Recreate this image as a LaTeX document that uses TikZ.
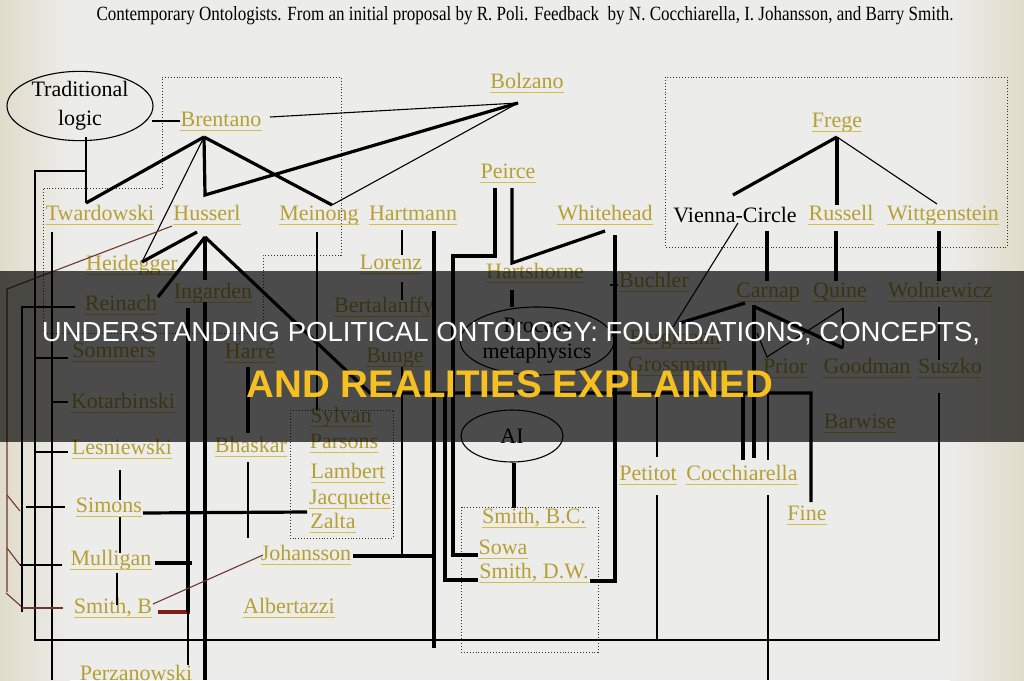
\documentclass[tikz,border=0pt]{standalone}
\usepackage{graphicx}
\usepackage{fontspec}
\setmainfont{Liberation Serif}
\newfontfamily\headfont{Liberation Sans}
\usetikzlibrary{shapes.geometric}
\definecolor{bgc}{RGB}{236,236,234}
\definecolor{edgec}{RGB}{224,220,202}
\definecolor{namec}{RGB}{182,160,52}
\definecolor{ulc}{RGB}{214,190,70}
\definecolor{brownc}{RGB}{110,55,45}
\definecolor{redbr}{RGB}{125,30,25}
\definecolor{headyel}{RGB}{246,192,32}
\tikzset{
  nm/.style={font=\fontsize{22}{22}\selectfont, text=namec, inner sep=0pt, text height=15pt, text depth=4pt},
  ul/.style={draw=ulc, line width=1.3pt},
  thk/.style={line width=3.2pt},
  thn/.style={line width=1.1pt},
  brn/.style={line width=1.1pt, draw=brownc},
  dotbox/.style={dotted, line width=0.9pt, draw=black!80},
  ell/.style={ellipse, draw, line width=1.1pt, inner sep=0pt, align=center, font=\fontsize{22}{26}\selectfont}
}
\newcommand\nmn[3]{\node[nm] (#1) at (#2) {#3};\draw[ul] (#1.south west) -- (#1.south east);}
\begin{document}
\begin{tikzpicture}[x=1pt,y=-1pt]
\useasboundingbox (0,0) rectangle (1024,680);
\clip (0,0) rectangle (1024,680);
\fill[bgc] (0,0) rectangle (1024,680);
\shade[left color=edgec, right color=bgc] (0,0) rectangle (70,680);
\shade[left color=bgc, right color=edgec] (950,0) rectangle (1024,680);

% title
\node (title) at (525,16) {\resizebox{857pt}{14pt}{\fontsize{17}{17}\selectfont Contemporary Ontologists. From an initial proposal by R. Poli. Feedback\ \ by N. Cocchiarella, I. Johansson, and Barry Smith.}};

% ellipses
\node[ell, minimum width=146pt, minimum height=62pt] (TL) at (80,106) {Traditional\\[3pt]logic};
\node[ell, minimum width=120pt, minimum height=68pt] (PM) at (537,341) {Process\\metaphysics};
\node[ell, minimum width=102pt, minimum height=52pt] (AI) at (512,436) {AI};
\node[font=\fontsize{22}{22}\selectfont, inner sep=0pt] (VC) at (735,215) {Vienna-Circle};

% names
\nmn{brentano}{221,121}{Brentano}
\nmn{bolzano}{527,83}{Bolzano}
\nmn{frege}{837,122}{Frege}
\nmn{peirce}{508,173}{Peirce}
\nmn{twardowski}{100,215}{Twardowski}
\nmn{husserl}{207,215}{Husserl}
\nmn{meinong}{319,215}{Meinong}
\nmn{hartmann}{413,215}{Hartmann}
\nmn{whitehead}{605,215}{Whitehead}
\nmn{russell}{841,215}{Russell}
\nmn{wittgenstein}{943,215}{Wittgenstein}
\nmn{heidegger}{132,265}{Heidegger}
\nmn{lorenz}{391,264}{Lorenz}
\nmn{hartshorne}{535,273}{Hartshorne}
\nmn{buchler}{654,282}{Buchler}
\nmn{carnap}{768,292}{Carnap}
\nmn{quine}{840,292}{Quine}
\nmn{wolniewicz}{940,292}{Wolniewicz}
\nmn{reinach}{121,305}{Reinach}
\nmn{ingarden}{213,293}{Ingarden}
\nmn{bertalanffy}{384,307}{Bertalanffy}
\nmn{bergmann}{675,339}{Bergmann}
\nmn{grossmann}{678,366}{Grossmann}
\nmn{sommers}{114,352}{Sommers}
\nmn{harre}{250,353}{Harré}
\nmn{bunge}{395,357}{Bunge}
\nmn{prior}{785,368}{Prior}
\nmn{goodman}{867,368}{Goodman}
\nmn{suszko}{950,368}{Suszko}
\nmn{kotarbinski}{123,403}{Kotarbinski}
\nmn{sylvan}{341,417}{Sylvan}
\nmn{barwise}{860,423}{Barwise}
\nmn{parsons}{344,443}{Parsons}
\nmn{lambert}{348,473}{Lambert}
\nmn{jacquette}{350,499}{Jacquette}
\nmn{zalta}{333,523}{Zalta}
\nmn{bhaskar}{251,447}{Bhaskar}
\nmn{lesniewski}{122,449}{Lesniewski}
\nmn{petitot}{648,475}{Petitot}
\nmn{cocchiarella}{742,475}{Cocchiarella}
\nmn{simons}{109,507}{Simons}
\nmn{fine}{807,515}{Fine}
\nmn{smithbc}{534,518}{Smith, B.C.}
\nmn{sowa}{503,549}{Sowa}
\nmn{smithdw}{534,573}{Smith, D.W.}
\nmn{johansson}{306,555}{Johansson}
\nmn{mulligan}{111,560}{Mulligan}
\nmn{smithb}{113,608}{Smith, B}
\nmn{albertazzi}{289,608}{Albertazzi}
\nmn{perzanowski}{136,675}{Perzanowski}
\nmn{poli}{775,692}{Poli}

% dotted groups
\draw[dotbox] (162,77) -- (341,77) -- (341,255) -- (263,255) -- (263,333) -- (43,333) -- (43,188) -- (162,188) -- cycle;
\draw[dotbox] (665,77) rectangle (1007,247);
\draw[dotbox] (290,410) rectangle (393,538);
\draw[dotbox] (461,507) rectangle (598,652);

% key coordinates
\coordinate (bA) at (204,137);
\coordinate (hA) at (205,237);
\coordinate (bzA) at (518,103);
\coordinate (fA) at (837,137);
\coordinate (mA) at (332,205);
\coordinate (hzY) at (370,393);

% Traditional logic / Brentano group
\draw[thn] (152,121) -- (brentano.west);
\draw[thn] (86,137) -- (86,203);
\draw[thn] (86,171) -- (35,171) -- (35,640) -- (939,640) -- (939,393);
\draw[thk] (bA) -- (86,203);
\draw[thk] (bA) -- (205,195) -- (bzA);
\draw[thk] (bA) -- (mA);
\draw[thn] (mA) -- (bzA);
\draw[thn] (270,117) -- (bzA);
\draw[thn] (bA) -- (142,262);
\draw[thk] (197,232) -- (142,262);
\draw[thk] (hA) -- (158,297);
\draw[thk] (hA) -- (205,280);
\draw[thk] (hA) -- (hzY) -- (811,393) -- (811,502);
\draw[brn] (172,226) -- (7,289) -- (7,592);
\draw[brn] (7,495) -- (20,511);
\draw[brn] (7,548) -- (20,565);
\draw[brn] (6,593) -- (22,607);

% left bracket lines
\draw[thn] (52,232) -- (52,680);
\draw[thn] (52,402) -- (68,402);
\draw[thn] (34,358) -- (68,358);
\draw[thn] (34,452) -- (68,452);
\draw[thn] (75,307) -- (22,307) -- (22,612);
\draw[thn] (26,507) -- (65,507);
\draw[thn] (20,565) -- (62,565);
\draw[brn] (22,608) -- (63,608);
\draw[thn] (120,470) -- (120,500);
\draw[thn] (120,517) -- (120,553);
\draw[thn] (117,573) -- (117,605);
\draw[thk] (143,513) -- (307,512);
\draw[thk] (155,563) -- (192,563);
\draw[thk, draw=redbr] (158,612) -- (190,612);
\draw[thk] (188,308) -- (188,612);
\draw[thn] (188,612) -- (188,665);
\draw[thk] (205,302) -- (205,680);
\draw[brn] (153,604) -- (263,555);

% middle
\draw[thk] (353,556) -- (433,556);
\draw[thn] (402,230) -- (402,255);
\draw[thn] (402,282) -- (402,300);
\draw[thn] (402,367) -- (402,556);
\draw[thk] (434,231) -- (434,648);
\draw[thk] (248,367) -- (248,433);
\draw[thn] (248,462) -- (248,538);
\draw[thn] (317,232) -- (317,410);
\draw[thk] (495,188) -- (495,256) -- (453,256) -- (453,555) -- (478,555);
\draw[thk] (512,188) -- (512,263) -- (605,231);
\draw[thk] (512,290) -- (512,307);
\draw[thk] (615,235) -- (615,583);
\draw[thk] (590,581) -- (615,581);
\draw[thn] (610,285) -- (618,285);
\draw[thk] (445,393) -- (445,580) -- (478,580);
\draw[thk] (514,463) -- (514,508);

% right group
\draw[thn] (738,223) -- (673,327);
\draw[thk] (fA) -- (733,195);
\draw[thk] (fA) -- (837,205);
\draw[thn] (fA) -- (937,204);
\draw[thk] (767,231) -- (767,281);
\draw[thk] (836,231) -- (836,281);
\draw[thk] (939,231) -- (939,281);
\draw[thn] (939,307) -- (939,360);
\draw[thk] (745,303) -- (680,323);
\draw[thk] (754,305) -- (754,458);
\draw[thk] (755,307) -- (843,348);
\draw[line width=2pt] (843,308) -- (843,348);
\draw[thn] (843,308) -- (767,357) -- (757,333);
\draw[thk] (743,393) -- (743,460);
\draw[thn] (768,393) -- (768,460);
\draw[thn] (768,495) -- (768,680);
\draw[thn] (657,393) -- (657,457);
\draw[thn] (657,495) -- (657,640);

% overlay band and headline
\fill[black, opacity=0.68] (0,271) rectangle (1024,442);
\node[inner sep=0pt, text=white, font=\headfont] (h1) at (511,334) {\resizebox{938pt}{!}{UNDERSTANDING POLITICAL ONTOLOGY: FOUNDATIONS, CONCEPTS,}};
\node[inner sep=0pt, text=headyel, font=\headfont\bfseries] (h2) at (510,384) {\resizebox{526pt}{!}{AND REALITIES EXPLAINED}};
\end{tikzpicture}
\end{document}
